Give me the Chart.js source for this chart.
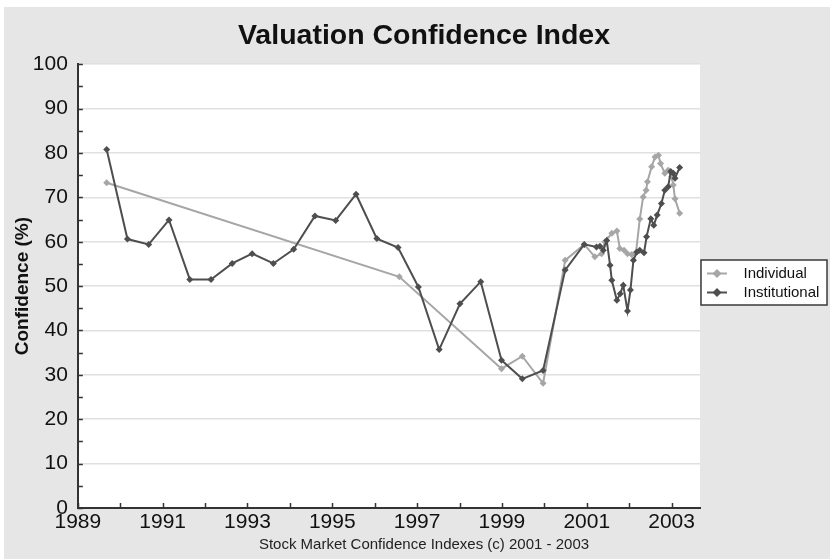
<!DOCTYPE html>
<html>
<head>
<meta charset="utf-8">
<script src="https://cdn.jsdelivr.net/npm/chart.js@4/dist/chart.umd.min.js"></script>
<style>
  html, body { margin: 0; padding: 0; background: #ffffff; }
  #wrap { width: 830px; height: 559px; position: relative; }
</style>
</head>
<body>
<div id="wrap"><canvas id="c" width="830" height="559"></canvas></div>
<script>
// ---- Data ----
const chartTitle = 'Valuation Confidence Index';
const footerText = 'Stock Market Confidence Indexes (c) 2001 - 2003';
const yAxisTitle = 'Confidence (%)';
const seriesNames = ['Individual', 'Institutional'];

const individualYears = [1989.68, 1996.58, 1998.99, 1999.48, 1999.97, 2000.49, 2000.94, 2001.19, 2001.35, 2001.43,
  2001.59, 2001.71, 2001.78, 2001.88, 2001.96, 2002.06, 2002.16, 2002.25, 2002.33, 2002.40,
  2002.43, 2002.53, 2002.61, 2002.69, 2002.74, 2002.84, 2002.92, 2003.00, 2003.04, 2003.08, 2003.19];
const individualValues = [73.3, 52.1, 31.4, 34.2, 28.1, 55.8, 59.4, 56.6, 57.3, 60.0,
  61.9, 62.4, 58.5, 58.1, 57.3, 57.1, 57.5, 65.1, 70.1, 71.6,
  73.5, 76.9, 79.1, 79.5, 77.6, 75.4, 76.1, 74.6, 72.8, 69.7, 66.4];

const institutionalYears = [1989.68, 1990.17, 1990.67, 1991.15, 1991.64, 1992.14, 1992.64, 1993.11, 1993.61, 1994.09,
  1994.59, 1995.08, 1995.56, 1996.05, 1996.55, 1997.03, 1997.52, 1998.01, 1998.50, 1998.99,
  1999.48, 1999.97, 2000.49, 2000.94, 2001.23, 2001.31, 2001.39, 2001.47, 2001.55, 2001.59,
  2001.71, 2001.79, 2001.86, 2001.96, 2002.03, 2002.10, 2002.18, 2002.25, 2002.35, 2002.41,
  2002.51, 2002.58, 2002.66, 2002.76, 2002.84, 2002.92, 2002.98, 2003.04, 2003.08, 2003.19];
const institutionalValues = [80.8, 60.6, 59.4, 64.9, 51.5, 51.5, 55.1, 57.3, 55.1, 58.3,
  65.8, 64.8, 70.7, 60.7, 58.7, 49.8, 35.7, 46.0, 51.0, 33.3,
  29.1, 31.0, 53.6, 59.4, 58.8, 59.0, 58.1, 60.3, 54.7, 51.3,
  46.8, 48.3, 50.2, 44.4, 49.1, 55.8, 57.7, 58.1, 57.5, 61.1,
  65.2, 63.7, 66.0, 68.6, 71.6, 72.4, 75.8, 75.4, 74.3, 76.7];

const xMin = 1989, xMax = 2003.67;
const yMin = 0, yMax = 100;

// ---- Styling ----
const FONT = '"Liberation Sans", Arial, Helvetica, sans-serif';
const colIndividual = '#a6a6a6';
const colInstitutional = '#4e4e4e';
const LEGEND_W = 123;

function toPoints(xs, ys) { return xs.map((x, i) => ({ x: x, y: ys[i] })); }

function makeMarker(color) {
  const c = document.createElement('canvas');
  c.width = 32; c.height = 15;
  const g = c.getContext('2d');
  g.strokeStyle = color; g.lineWidth = 2;
  g.beginPath(); g.moveTo(3, 7.5); g.lineTo(23, 7.5); g.stroke();
  g.fillStyle = color;
  g.beginPath(); g.moveTo(13, 3); g.lineTo(17.5, 7.5); g.lineTo(13, 12); g.lineTo(8.5, 7.5); g.closePath(); g.fill();
  return c;
}

const framePlugin = {
  id: 'frame',
  beforeUpdate(chart) {
    const lg = chart.legend;
    if (lg && !lg._fitWrapped) {
      const orig = lg.fit.bind(lg);
      lg.fit = function () { orig(); this.width = LEGEND_W; };
      lg._fitWrapped = true;
    }
  },
  beforeDraw(chart) {
    const ctx = chart.ctx, a = chart.chartArea;
    ctx.save();
    ctx.fillStyle = '#ffffff';
    ctx.fillRect(0, 0, chart.width, chart.height);
    ctx.fillStyle = '#e6e6e6';
    ctx.fillRect(4, 7, chart.width - 4, chart.height - 7);
    ctx.fillStyle = '#ffffff';
    ctx.fillRect(a.left, a.top, a.right - a.left, a.bottom - a.top);
    const lg = chart.legend;
    if (lg) {
      const y0 = (lg.top + 4 + lg.bottom - 38) / 2;
      ctx.fillStyle = '#ffffff';
      ctx.fillRect(lg.left + 1, y0 - 6, 126, 45);
      ctx.strokeStyle = '#3a3a3a';
      ctx.lineWidth = 1.5;
      ctx.strokeRect(lg.left + 1, y0 - 6, 126, 45);
    }
    ctx.restore();
  },
  afterDatasetsDraw(chart) {
    const ctx = chart.ctx, a = chart.chartArea;
    const xs = chart.scales.x, ys = chart.scales.y;
    ctx.save();
    ctx.strokeStyle = '#333333';
    ctx.lineWidth = 1.5;
    ctx.beginPath();
    for (let v = yMin; v <= yMax; v += 5) {
      const py = Math.round(ys.getPixelForValue(v)) + 0.5;
      ctx.moveTo(a.left, py); ctx.lineTo(a.left + 5, py);
    }
    for (let v = Math.ceil(xMin); v <= xMax; v += 1) {
      const px = Math.round(xs.getPixelForValue(v)) + 0.5;
      ctx.moveTo(px, a.bottom); ctx.lineTo(px, a.bottom - 5);
    }
    ctx.stroke();
    ctx.restore();
  }
};

new Chart(document.getElementById('c'), {
  type: 'line',
  data: {
    datasets: [
      {
        label: seriesNames[0],
        data: toPoints(individualYears, individualValues),
        borderColor: colIndividual,
        backgroundColor: colIndividual,
        borderWidth: 2,
        pointStyle: 'rectRot',
        pointRadius: 3.5,
        pointBorderWidth: 0,
        pointBackgroundColor: colIndividual,
        tension: 0,
        order: 1
      },
      {
        label: seriesNames[1],
        data: toPoints(institutionalYears, institutionalValues),
        borderColor: colInstitutional,
        backgroundColor: colInstitutional,
        borderWidth: 2,
        pointStyle: 'rectRot',
        pointRadius: 3.5,
        pointBorderWidth: 0,
        pointBackgroundColor: colInstitutional,
        tension: 0,
        order: 0
      }
    ]
  },
  options: {
    responsive: false,
    animation: false,
    events: [],
    layout: { padding: { left: 25, right: 7, top: 7, bottom: 0 } },
    plugins: {
      tooltip: { enabled: false },
      title: {
        display: true,
        text: chartTitle,
        color: '#111111',
        font: { family: FONT, size: 28.5, weight: 'bold', lineHeight: 1.2 },
        padding: { top: 12, bottom: 11 }
      },
      subtitle: {
        display: true,
        position: 'bottom',
        text: footerText,
        color: '#222222',
        font: { family: FONT, size: 15, weight: 'normal', lineHeight: 1.0 },
        padding: { top: 0, bottom: 7 }
      },
      legend: {
        display: true,
        position: 'right',
        align: 'center',
        labels: {
          usePointStyle: true,
          pointStyleWidth: 32,
          padding: 4,
          color: '#111111',
          font: { family: FONT, size: 15 },
          generateLabels(chart) {
            return chart.data.datasets.map((ds, i) => ({
              text: ds.label,
              pointStyle: makeMarker(ds.borderColor),
              fillStyle: ds.borderColor,
              strokeStyle: ds.borderColor,
              lineWidth: 0,
              hidden: false,
              datasetIndex: i,
              fontColor: '#111111'
            }));
          }
        }
      }
    },
    scales: {
      x: {
        type: 'linear',
        min: xMin,
        max: xMax,
        grid: { display: true, drawOnChartArea: false, drawTicks: false },
        border: { display: true, color: '#333333', width: 2 },
        ticks: {
          stepSize: 1,
          includeBounds: false,
          autoSkip: false,
          maxRotation: 0,
          padding: 4,
          color: '#111111',
          font: { family: FONT, size: 21, lineHeight: 1.0 },
          callback: (v) => (Number.isInteger(v) && Math.abs(v % 2) === 1) ? String(v) : ''
        }
      },
      y: {
        type: 'linear',
        min: yMin,
        max: yMax,
        grid: { color: '#e0e0e0', lineWidth: 1.5, drawTicks: false },
        border: { display: true, color: '#333333', width: 2 },
        ticks: {
          stepSize: 10,
          padding: 10,
          color: '#111111',
          font: { family: FONT, size: 21 }
        },
        title: {
          display: true,
          text: yAxisTitle,
          color: '#111111',
          font: { family: FONT, size: 19, weight: 'bold', lineHeight: 1.2 },
          padding: { top: -14, bottom: -11 }
        }
      }
    }
  },
  plugins: [framePlugin]
});
</script>
</body>
</html>
